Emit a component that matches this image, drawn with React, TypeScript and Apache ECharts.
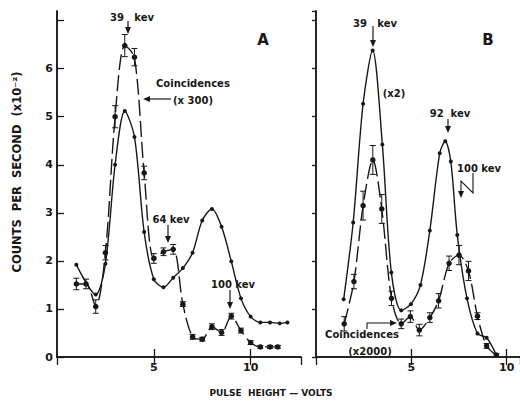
import React, { useEffect, useRef } from "react";
import * as echarts from "echarts";

// Panel A (singles and coincidences x300)
const aSinglesX = [1.0, 2.0, 2.5, 3.0, 3.5, 4.0, 4.5, 5.0, 5.5, 6.0, 6.5, 7.0, 7.5, 8.0, 8.5, 9.0, 9.5, 10.0, 10.5, 11.0, 11.5, 11.9];
const aSinglesY = [1.92, 1.3, 1.94, 4.0, 5.12, 4.58, 2.6, 1.62, 1.45, 1.65, 1.85, 2.17, 2.84, 3.08, 2.71, 1.99, 1.22, 0.84, 0.72, 0.72, 0.7, 0.72];
const aCoincX = [1.0, 1.5, 2.0, 2.5, 3.0, 3.5, 4.0, 4.5, 5.0, 5.5, 6.0, 6.5, 7.0, 7.5, 8.0, 8.5, 9.0, 9.5, 10.0, 10.5, 11.0, 11.4];
const aCoincY = [1.52, 1.52, 1.05, 2.17, 5.0, 6.48, 6.24, 3.83, 2.05, 2.19, 2.24, 1.1, 0.42, 0.37, 0.63, 0.51, 0.85, 0.55, 0.3, 0.21, 0.21, 0.21];
const aCoincErr = [0.12, 0.1, 0.14, 0.15, 0.23, 0.23, 0.18, 0.14, 0.1, 0.08, 0.1, 0.05, 0.05, 0.04, 0.06, 0.06, 0.06, 0.05, 0.04, 0.03, 0.03, 0.03];

// Panel B (singles x2 and coincidences x2000)
const bSinglesX = [1.45, 1.95, 2.47, 2.97, 3.48, 3.95, 4.47, 4.98, 5.48, 5.97, 6.49, 6.78, 7.07, 7.41, 7.92, 8.47, 8.95, 9.46];
const bSinglesY = [1.2, 2.8, 5.27, 6.38, 4.42, 1.76, 0.97, 1.1, 1.5, 2.63, 4.24, 4.49, 4.07, 2.54, 1.22, 0.49, 0.4, 0.04];
const bCoincX = [1.48, 1.99, 2.47, 2.98, 3.45, 3.96, 4.47, 4.95, 5.42, 5.97, 6.43, 6.98, 7.5, 8.0, 8.47, 8.95, 9.46];
const bCoincY = [0.69, 1.57, 3.15, 4.1, 3.08, 1.22, 0.69, 0.84, 0.56, 0.82, 1.17, 1.95, 2.12, 1.79, 0.85, 0.23, 0.04];
const bCoincErr = [0.15, 0.15, 0.3, 0.3, 0.3, 0.15, 0.1, 0.12, 0.12, 0.1, 0.15, 0.15, 0.2, 0.2, 0.07, 0.05, 0.03];

const xTickLabels = ["5", "10"];
const yTickLabels = ["0", "1", "2", "3", "4", "5", "6"];

const INK = "#171717";
const FONT = '"DejaVu Sans", sans-serif';

const pairs = (xs: number[], ys: number[]) => xs.map((x, i) => [x, ys[i]]);
const errs = (xs: number[], ys: number[], es: number[]) => xs.map((x, i) => [x, ys[i] - es[i], ys[i] + es[i]]);

const errRender = (params: any, api: any) => {
  const x = api.value(0);
  const lo = api.coord([x, api.value(1)]);
  const hi = api.coord([x, api.value(2)]);
  const w = 3;
  const st = { stroke: INK, lineWidth: 1 };
  return {
    type: "group",
    children: [
      { type: "line", shape: { x1: hi[0], y1: hi[1], x2: lo[0], y2: lo[1] }, style: st },
      { type: "line", shape: { x1: hi[0] - w, y1: hi[1], x2: hi[0] + w, y2: hi[1] }, style: st },
      { type: "line", shape: { x1: lo[0] - w, y1: lo[1], x2: lo[0] + w, y2: lo[1] }, style: st },
    ],
  };
};

const txt = (x: number, y: number, text: string, size = 10, align = "center", extra: any = {}) => ({
  type: "text",
  x,
  y,
  ...extra,
  style: { text, font: `bold ${size}px ${FONT}`, fill: INK, textAlign: align, textVerticalAlign: "middle" },
});

const arrowDown = (x: number, y1: number, y2: number) => [
  { type: "line", shape: { x1: x, y1, x2: x, y2: y2 - 5 }, style: { stroke: INK, lineWidth: 1.2 } },
  { type: "polygon", shape: { points: [[x - 3, y2 - 7], [x + 3, y2 - 7], [x, y2]] }, style: { fill: INK } },
];

export default function App() {
  const ref = useRef<HTMLDivElement>(null);
  useEffect(() => {
    if (!ref.current) return;
    const chart = echarts.init(ref.current, null, { renderer: "svg" });
    const axisLine = { show: true, lineStyle: { color: INK, width: 1.5 } };
    const tick = (len: number) => ({ show: true, inside: true, length: len, lineStyle: { color: INK, width: 1.3 } });
    const label = {
      color: INK,
      fontWeight: "bold" as const,
      fontSize: 11,
      fontFamily: FONT,
      showMaxLabel: false,
    };
    const xLab = { ...label, margin: 5, showMinLabel: false, formatter: (v: number) => (xTickLabels.includes(String(v)) ? String(v) : "") };
    const yLab = { ...label, margin: 4, formatter: (v: number) => (yTickLabels.includes(String(v)) ? String(v) : "") };
    const base = { type: "value" as const, splitLine: { show: false }, axisLine };

    const graphic: any[] = [
      // Panel A annotations
      txt(132, 17, "39   kev"),
      ...arrowDown(128, 21, 34),
      txt(263, 40, "A", 15),
      txt(156, 83, "Coincidences", 10, "left"),
      txt(173, 100, "(x 300)", 10, "left"),
      { type: "line", shape: { x1: 171, y1: 99, x2: 148, y2: 99 }, style: { stroke: INK, lineWidth: 1.2 } },
      { type: "polygon", shape: { points: [[150, 96], [150, 102], [143, 99]] }, style: { fill: INK } },
      txt(171, 219, "64 kev"),
      ...arrowDown(168, 225, 243),
      txt(233, 284, "100 kev"),
      ...arrowDown(230, 290, 309),
      // Panel B annotations
      txt(375, 23, "39   kev"),
      ...arrowDown(373, 26, 47),
      txt(488, 40, "B", 15),
      txt(394, 93, "(x2)"),
      txt(450, 113, "92  kev"),
      ...arrowDown(448, 119, 133),
      txt(479, 168, "100 kev"),
      { type: "polyline", shape: { points: [[473, 173], [473, 193], [461, 181], [461, 193]] }, style: { stroke: INK, lineWidth: 1.1, fill: "none" } },
      { type: "polygon", shape: { points: [[458, 191], [464, 191], [461, 198]] }, style: { fill: INK } },
      txt(362, 334, "Coincidences", 10),
      txt(370, 351, "(x2000)", 10),
      { type: "polyline", shape: { points: [[367, 329], [367, 323], [392, 323]] }, style: { stroke: INK, lineWidth: 1.1, fill: "none" } },
      { type: "polygon", shape: { points: [[390, 320], [390, 326], [397, 323]] }, style: { fill: INK } },
      // Axis titles
      txt(271, 393, "PULSE  HEIGHT — VOLTS", 9),
      txt(17, 172, "COUNTS  PER  SECOND  (x10⁻²)", 11.5, "center", { rotation: Math.PI / 2 }),
    ];

    chart.setOption({
      animation: false,
      backgroundColor: "#ffffff",
      grid: [
        { left: 57, top: 11, width: 244, height: 346 },
        { left: 316, top: 11, width: 209, height: 346 },
      ],
      xAxis: [
        { ...base, gridIndex: 0, min: 0, max: 12.6, interval: 5, position: "bottom", axisTick: tick(8), axisLabel: xLab },
        { ...base, gridIndex: 0, min: 0, max: 12.6, interval: 5, position: "top", axisTick: tick(8), axisLabel: { show: false } },
        { ...base, gridIndex: 1, min: 0, max: 10.7, interval: 5, position: "bottom", axisTick: tick(8), axisLabel: xLab },
        { ...base, gridIndex: 1, min: 0, max: 10.7, interval: 5, position: "top", axisTick: tick(8), axisLabel: { show: false } },
      ],
      yAxis: [
        { ...base, gridIndex: 0, min: 0, max: 7.2, interval: 1, position: "left", axisTick: tick(7), axisLabel: yLab },
        { ...base, gridIndex: 0, min: 0, max: 7.2, interval: 1, position: "right", axisTick: { show: false }, axisLabel: { show: false } },
        { ...base, gridIndex: 1, min: 0, max: 7.2, interval: 1, position: "left", axisTick: { show: false }, axisLabel: { show: false } },
        { ...base, gridIndex: 1, min: 0, max: 7.2, interval: 1, position: "right", axisTick: tick(4), axisLabel: { show: false } },
      ],
      series: [
        {
          type: "line", xAxisIndex: 0, yAxisIndex: 0, data: pairs(aSinglesX, aSinglesY), smooth: 0.3,
          symbol: "circle", symbolSize: 4, itemStyle: { color: INK }, lineStyle: { color: INK, width: 1.4 },
        },
        {
          type: "line", xAxisIndex: 0, yAxisIndex: 0, data: pairs(aCoincX, aCoincY), smooth: 0.3,
          symbol: "circle", symbolSize: 5.5, itemStyle: { color: INK }, lineStyle: { color: INK, width: 1.4, type: [16, 5] },
        },
        {
          type: "custom", xAxisIndex: 0, yAxisIndex: 0, data: errs(aCoincX, aCoincY, aCoincErr),
          renderItem: errRender, encode: { x: 0, y: [1, 2] }, z: 3,
        },
        {
          type: "line", xAxisIndex: 2, yAxisIndex: 2, data: pairs(bSinglesX, bSinglesY), smooth: 0.3,
          symbol: "circle", symbolSize: 4, itemStyle: { color: INK }, lineStyle: { color: INK, width: 1.4 },
        },
        {
          type: "line", xAxisIndex: 2, yAxisIndex: 2, data: pairs(bCoincX, bCoincY), smooth: 0.3,
          symbol: "circle", symbolSize: 5.5, itemStyle: { color: INK }, lineStyle: { color: INK, width: 1.4, type: [16, 5] },
        },
        {
          type: "custom", xAxisIndex: 2, yAxisIndex: 2, data: errs(bCoincX, bCoincY, bCoincErr),
          renderItem: errRender, encode: { x: 0, y: [1, 2] }, z: 3,
        },
      ],
      graphic,
    });
    return () => chart.dispose();
  }, []);
  return (
    <div
      ref={ref}
      style={{ position: "fixed", left: 0, top: 0, width: 520, height: 404, background: "#fff" }}
    />
  );
}
